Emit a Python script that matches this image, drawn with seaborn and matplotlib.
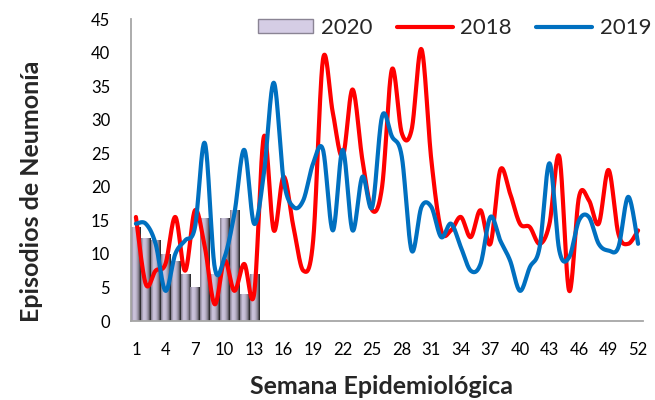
import numpy as np
import pandas as pd
import matplotlib
matplotlib.use('Agg')
import matplotlib.pyplot as plt
from matplotlib.colors import LinearSegmentedColormap
from matplotlib.patches import Patch
from matplotlib.lines import Line2D
import seaborn as sns

# --- data ---
semanas = list(range(1, 53))
semanas_2020 = list(range(1, 14))
casos_2020 = [14, 12.3, 12, 10, 9, 7, 5, 15.3, 7, 15.3, 16.5, 4, 7]
casos_2018 = [15.5, 5.5, 7.5, 8.5, 15.5, 7.5, 16.5, 11, 2.5, 9,
              4.5, 8.5, 4, 27.5, 13.5, 21.5, 14, 7.5, 12, 39,
              31, 24.5, 34.5, 24, 16.5, 20, 37.5, 28, 28.5, 40.5,
              24, 13.5, 13.5, 15.5, 12.5, 16.5, 11.5, 22.5, 19, 14.5,
              14, 11.5, 14.5, 24.5, 4.5, 18.5, 18, 14.5, 22.5, 13,
              11.5, 13.5]
casos_2019 = [14.5, 14.5, 11.5, 4.5, 10, 12, 14, 26.5, 8, 9.5,
              16, 25.5, 14.5, 22, 35.5, 21, 17, 18, 23.5, 25.5,
              13.5, 25.5, 13.5, 21.5, 17, 30.5, 27.5, 24.5, 10.5, 17,
              17, 12.5, 14.5, 11, 7.5, 8.5, 15.5, 12, 9, 4.5,
              8, 11, 23.5, 10.5, 9.5, 15, 15.5, 11.5, 10.5, 11,
              18.5, 11.5]
ticks_x = list(range(1, 53, 3))
ticks_y = list(range(0, 46, 5))

ROJO = '#ff0000'
AZUL = '#0070c0'


def suavizar(x, y, n=24):
    """Excel-like smoothed line: cubic Bezier through every point."""
    x = np.asarray(x, float)
    y = np.asarray(y, float)
    px = np.concatenate([[x[0]], x, [x[-1]]])
    py = np.concatenate([[y[0]], y, [y[-1]]])
    xs, ys = [], []
    t = np.linspace(0, 1, n, endpoint=False)[:, None]
    for i in range(1, len(x)):
        p0 = np.array([px[i], py[i]])
        p3 = np.array([px[i + 1], py[i + 1]])
        c1 = p0 + (p3 - np.array([px[i - 1], py[i - 1]])) / 6
        c2 = p3 - (np.array([px[i + 2], py[i + 2]]) - p0) / 6
        pts = ((1 - t) ** 3) * p0 + 3 * ((1 - t) ** 2) * t * c1 + 3 * (1 - t) * t ** 2 * c2 + t ** 3 * p3
        xs.extend(pts[:, 0])
        ys.extend(pts[:, 1])
    xs.append(x[-1])
    ys.append(y[-1])
    return np.array(xs), np.array(ys)


sns.set_style('white')
plt.rcParams['font.family'] = ['Lato', 'DejaVu Sans']

fig = plt.figure(figsize=(6.55, 4.0), dpi=100)
ax = fig.add_axes([0.2, 0.1975, 0.7817, 0.755])

# --- 2020 bars ---
df_bar = pd.DataFrame({'semana': semanas_2020, 'casos': casos_2020})
sns.barplot(data=df_bar, x='semana', y='casos', native_scale=True,
            width=0.92, color='#c8c0d8', ax=ax, zorder=1)

bar_cmap = LinearSegmentedColormap.from_list(
    'tex', ['#7d7787', '#cfc7df', '#c2bad2', '#8d8797', '#1c1c1c'])
grad = np.linspace(0, 1, 64)[None, :]
for bar in list(ax.patches):
    x0, y0 = bar.get_x(), bar.get_y()
    w, h = bar.get_width(), bar.get_height()
    im = ax.imshow(grad, cmap=bar_cmap, aspect='auto', interpolation='bilinear',
                   extent=(x0, x0 + w, y0, y0 + h), zorder=1)
    im.set_clip_path(bar)
    bar.set_facecolor('none')
    bar.set_edgecolor('none')

# --- 2018 / 2019 smoothed lines ---
partes = []
for anio, vals in [('2018', casos_2018), ('2019', casos_2019)]:
    xs, ys = suavizar(semanas, vals)
    partes.append(pd.DataFrame({'semana': xs, 'casos': ys, 'anio': anio}))
df_lin = pd.concat(partes, ignore_index=True)
sns.lineplot(data=df_lin, x='semana', y='casos', hue='anio',
             palette={'2018': ROJO, '2019': AZUL}, sort=False, estimator=None,
             linewidth=3.0, legend=False, ax=ax, zorder=3)

ax.set_xlim(0.5, 52.5)
ax.set_ylim(0, 45)
ax.set_xticks(ticks_x)
ax.set_xticklabels([str(t) for t in ticks_x])
ax.set_yticks(ticks_y)
ax.tick_params(axis='both', length=0, labelsize=12, colors='#000000')
ax.tick_params(axis='y', pad=15)
ax.tick_params(axis='x', pad=15)

sns.despine(ax=ax)
for s in ['left', 'bottom']:
    ax.spines[s].set_color('#a6a6a6')
    ax.spines[s].set_linewidth(1.3)

ax.set_xlabel('Semana Epidemiológica', fontsize=18, fontweight='bold')
ax.set_ylabel('Episodios de Neumonía', fontsize=18, fontweight='bold')
ax.xaxis.set_label_coords(0.49, -0.178)
ax.yaxis.set_label_coords(-0.172, 0.43)

handles = [Patch(facecolor='#d5cde5', edgecolor='#8a8494'),
           Line2D([], [], color=ROJO, linewidth=3.0),
           Line2D([], [], color=AZUL, linewidth=3.0)]
fig.legend(handles, ['2020', '2018', '2019'], loc='center right',
           bbox_to_anchor=(1.018, 0.93), ncol=3, frameon=False, fontsize=16,
           handlelength=2.5, handleheight=0.6, handletextpad=0.35,
           columnspacing=1.1, borderpad=0.2)

fig.savefig('out.png', dpi=100)
